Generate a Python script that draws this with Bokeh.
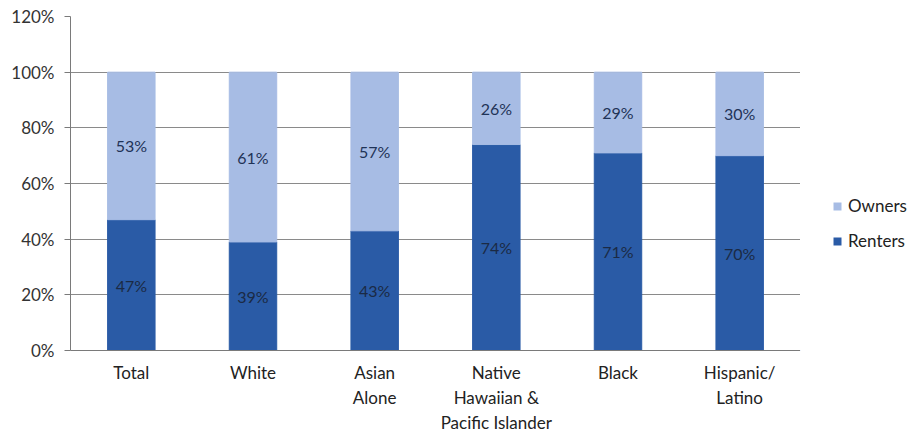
from bokeh.plotting import figure
from bokeh.layouts import row
from bokeh.models import ColumnDataSource, Legend, LegendItem, PrintfTickFormatter, FixedTicker, LabelSet
from bokeh.core.properties import value
from bokeh.embed import file_html
from bokeh.resources import INLINE

categories = ["Total", "White", "Asian\nAlone", "Native\nHawaiian &\nPacific Islander", "Black", "Hispanic/\nLatino"]
renters = [47, 39, 43, 74, 71, 70]
owners = [53, 61, 57, 26, 29, 30]
y_ticks = [0, 20, 40, 60, 80, 100, 120]

DARK = "#2a5ba6"
LIGHT = "#a7bce4"
FONT = "Lato"

src = ColumnDataSource(dict(
    cat=categories,
    r_top=renters,
    o_bottom=renters,
    o_top=[r + o for r, o in zip(renters, owners)],
    r_mid=[r / 2 for r in renters],
    o_mid=[r + o / 2 for r, o in zip(renters, owners)],
    r_lab=[f"{r}%" for r in renters],
    o_lab=[f"{o}%" for o in owners],
))

p = figure(x_range=categories, y_range=(0, 120), width=800, height=435,
           output_backend="svg", toolbar_location=None,
           min_border_left=70, min_border_right=0, min_border_top=16, min_border_bottom=85)
p.outline_line_color = None

p.vbar(x="cat", bottom=0, top="r_top", width=0.39, color=DARK, source=src)
p.vbar(x="cat", bottom="o_bottom", top="o_top", width=0.39, color=LIGHT, source=src)

p.add_layout(LabelSet(x="cat", y="r_mid", text="r_lab", source=src, text_align="center",
                      text_baseline="middle", text_font=value(FONT), text_font_size=value("16px"),
                      text_color="#1b2a44"))
p.add_layout(LabelSet(x="cat", y="o_mid", text="o_lab", source=src, text_align="center",
                      text_baseline="middle", text_font=value(FONT), text_font_size=value("16px"),
                      text_color="#1f3357"))

p.yaxis.ticker = FixedTicker(ticks=y_ticks)
p.yaxis.formatter = PrintfTickFormatter(format="%d%%")
p.yaxis.major_tick_out = 6
p.yaxis.major_tick_in = 0
p.yaxis.minor_tick_line_color = None
p.yaxis.axis_line_color = "#7a7a7a"
p.yaxis.major_tick_line_color = "#7a7a7a"
p.yaxis.major_label_text_font = FONT
p.yaxis.major_label_text_font_size = "17px"
p.yaxis.major_label_text_color = "#333333"
p.yaxis.major_label_standoff = 10

p.xaxis.axis_line_color = "#7a7a7a"
p.xaxis.major_tick_line_color = None
p.xaxis.major_tick_out = 0
p.xaxis.major_tick_in = 0
p.xaxis.axis_label_standoff = 0
p.xaxis.major_label_text_font = FONT
p.xaxis.major_label_text_font_size = "17px"
p.xaxis.major_label_text_color = "#222222"
p.xaxis.major_label_standoff = 11
p.xaxis.major_label_text_line_height = 1.2

p.xgrid.grid_line_color = None
p.ygrid.grid_line_color = "#8a8a8a"
p.ygrid.grid_line_width = 1

# legend panel
lg = figure(width=111, height=435, x_range=(0, 1), y_range=(0, 1),
            output_backend="svg", toolbar_location=None,
            x_axis_location=None, y_axis_location=None,
            min_border_left=0, min_border_right=0, min_border_top=16, min_border_bottom=85)
lg.outline_line_color = None
lg.grid.grid_line_color = None
o_r = lg.vbar(x=[-10], bottom=[-10], top=[-9], width=0.1, fill_color=LIGHT, line_color=None)
r_r = lg.vbar(x=[-10], bottom=[-10], top=[-9], width=0.1, fill_color=DARK, line_color=None)
legend = Legend(items=[LegendItem(label="Owners", renderers=[o_r]),
                       LegendItem(label="Renters", renderers=[r_r])],
                location=(32, 99), orientation="vertical")
legend.background_fill_alpha = 0
legend.border_line_color = None
legend.padding = 0
legend.margin = 0
legend.glyph_width = 10
legend.glyph_height = 10
legend.label_height = 20
legend.spacing = 14
legend.label_standoff = 6
legend.label_text_font = FONT
legend.label_text_font_size = "17px"
legend.label_text_color = "#222222"
lg.add_layout(legend, "center")

layout = row(p, lg, spacing=0)
open("out.html", "w").write(file_html(layout, INLINE))
